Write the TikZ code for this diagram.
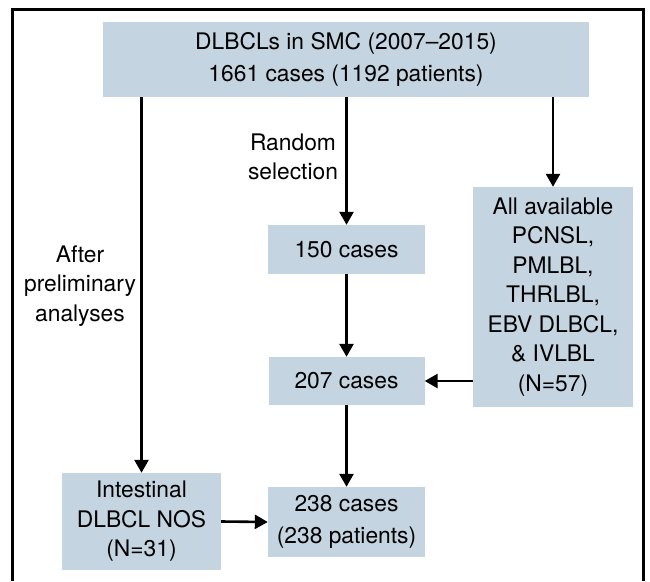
\documentclass[tikz,border=0pt]{standalone}
\usepackage{fontspec}
\setmainfont{TeX Gyre Heros}
\usetikzlibrary{arrows.meta}
\definecolor{boxblue}{RGB}{197,212,225}
\tikzset{
	flowbox/.style={fill=boxblue, inner sep=0pt, align=center, font=\fontsize{22.8}{29.5}\selectfont},
	flowarrow/.style={line width=2.6pt, -{Triangle[width=14pt,length=13pt]}},
	sidelabel/.style={align=center, font=\fontsize{22.8}{29.5}\selectfont}
}

\begin{document}
\begin{tikzpicture}[x=1pt, y=-1pt]
			%%%%% START %%%%%
			
			\useasboundingbox (0, 0) rectangle (650, 581);
			\draw[line width=3pt] (12.5, 581) -- (12.5, 9) -- (643, 9) -- (643, 581);
			
			\node[flowbox, minimum width=486, minimum height=75] (top) at (346, 59.5) {DLBCLs in SMC (2007--2015)\\[2pt]1661 cases (1192 patients)};
			\node[flowbox, minimum width=157, minimum height=49] (sel) at (346.5, 249.5) {150 cases};
			\node[flowbox, minimum width=156, minimum height=48] (mid) at (346.5, 381) {207 cases};
			\node[flowbox, minimum width=157, minimum height=70] (fin) at (346.5, 522) {238 cases\\[2pt](238 patients)};
			\node[flowbox, minimum width=159, minimum height=97] (intest) at (141.5, 521.5) {Intestinal\\DLBCL NOS\\(N=31)};
			\node[flowbox, minimum width=160, minimum height=220] (avail) at (553, 297) {All available\\PCNSL,\\PMLBL,\\THRLBL,\\EBV DLBCL,\\\& IVLBL\\(N=57)};
			
			\node[sidelabel] (rnd) at (293, 157) {Random\\selection};
			\node[sidelabel] (prelim) at (80, 286) {After\\preliminary\\analyses};
			
			\draw[flowarrow] (top.south -| sel.north) -- (sel.north);
			\draw[flowarrow] (sel.south) -- (mid.north);
			\draw[flowarrow] (mid.south) -- (fin.north);
			\draw[flowarrow] (top.south -| intest.north) -- (intest.north);
			\draw[flowarrow] (top.south -| avail.north) -- (avail.north);
			\draw[flowarrow] (avail.west |- mid.east) -- (mid.east);
			\draw[flowarrow] (intest.east) -- (fin.west);
			
			%%%%% END %%%%%
		\end{tikzpicture}
\end{document}
